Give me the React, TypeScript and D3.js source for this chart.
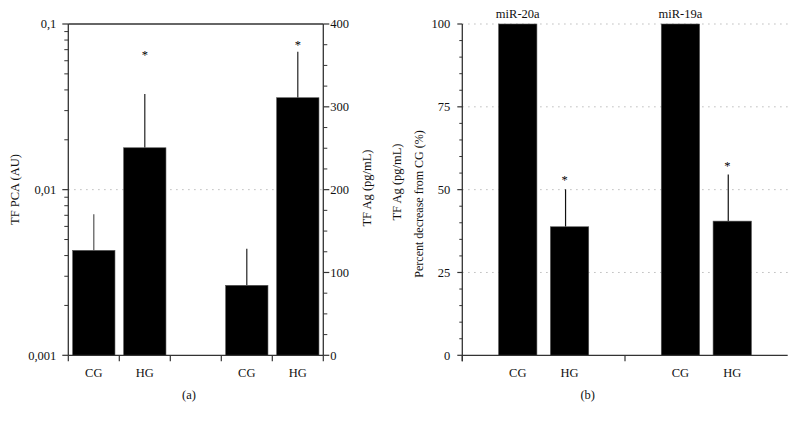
import React from "react";
import * as d3 from "d3";

// ---------- Data ----------
const categories = ["CG", "HG"];
// Panel (a): TF PCA (log axis, left) and TF Ag (linear axis, right)
const pcaMeans = [0.0043, 0.0179];
const pcaErrTop = [0.0071, 0.0378];
const pcaStar = [null, 0.0665];
const agMeans = [84.5, 311];
const agErrTop = [128.7, 366.5];
const agStar = [null, 376.7];
const logTickLabels = ["0,1", "0,01", "0,001"];
const logTickValues = [0.1, 0.01, 0.001];
const agTicks = [0, 100, 200, 300, 400];
// Panel (b): percent decrease from CG
const mirGroups = ["miR-20a", "miR-19a"];
const cgPercent = [100, 100];
const hgPercent = [38.8, 40.5];
const hgErrTop = [50.1, 54.6];
const hgStar = [53.4, 57.7];
const pctTicks = [0, 25, 50, 75, 100];

const FONT = "'Liberation Serif', 'Times New Roman', serif";
const AX = "#333";

export default function App() {
  const W = 796, H = 421;
  const yTop = 24, yBot = 355.3;

  // ----- Panel (a) scales -----
  const aL = 68.3, aR = 323.3;
  const slotsA = ["pca-CG", "pca-HG", "gap", "ag-CG", "ag-HG"];
  const xA = d3.scaleBand<string>().domain(slotsA).range([aL, aR]).paddingInner(0.17).paddingOuter(0.085);
  const stepA = (aR - aL) / slotsA.length;
  const yLog = d3.scaleLog().domain([0.001, 0.1]).range([yBot, yTop]);
  const yAg = d3.scaleLinear().domain([0, 400]).range([yBot, yTop]);
  const logMinor: number[] = [];
  [0.001, 0.01].forEach((dec) => { for (let k = 2; k <= 9; k++) logMinor.push(k * dec); });
  const agMinor = d3.range(0, 401, 25).filter((v) => v % 100 !== 0);

  // ----- Panel (b) scales -----
  const bL = 462.3, bR = 787.7;
  const xGroup = d3.scaleBand<string>().domain(mirGroups).range([bL, bR]).padding(0);
  const xInner = d3.scaleBand<string>().domain(categories).range([0, xGroup.bandwidth()]).paddingInner(0.26).paddingOuter(0.7);
  const yPct = d3.scaleLinear().domain([0, 100]).range([yBot, yTop]);
  const pctMinor = d3.range(0, 101, 5).filter((v) => v % 25 !== 0);

  const txt = { fontFamily: FONT, fontSize: 12.5, fill: "#111" } as const;
  const grid = { stroke: "#aaa", strokeWidth: 1, strokeDasharray: "1.2 4.8" };

  const barsA: { x: number; w: number; y: number; y0: number; err: number; star: number | null }[] = [];
  categories.forEach((c, i) => {
    barsA.push({ x: xA("pca-" + c)!, w: xA.bandwidth(), y: yLog(pcaMeans[i]), y0: yBot, err: yLog(pcaErrTop[i]), star: pcaStar[i] != null ? yLog(pcaStar[i] as number) : null });
  });
  categories.forEach((c, i) => {
    barsA.push({ x: xA("ag-" + c)!, w: xA.bandwidth(), y: yAg(agMeans[i]), y0: yAg(0), err: yAg(agErrTop[i]), star: agStar[i] != null ? yAg(agStar[i] as number) : null });
  });
  const labelSlots = ["pca-CG", "pca-HG", "ag-CG", "ag-HG"];

  return (
    <svg width={W} height={H} style={{ display: "block", position: "absolute", left: 0, top: 0 }}>
      <rect width={W} height={H} fill="#fff" />
      {/* ===== Panel (a) ===== */}
      <line x1={aL} x2={aR} y1={yLog(0.01)} y2={yLog(0.01)} {...grid} />
      {barsA.map((b, i) => (
        <g key={"ba" + i}>
          <line x1={b.x + b.w / 2} x2={b.x + b.w / 2} y1={b.y} y2={b.err} stroke={i === 0 ? "#555" : "#222"} strokeWidth={1.2} />
          <rect x={b.x} y={b.y} width={b.w} height={b.y0 - b.y} fill="#000" stroke="#555" strokeWidth={0.6} />
          {b.star != null && (
            <text x={b.x + b.w / 2} y={b.star + 6} textAnchor="middle" {...txt} fill="#000">*</text>
          )}
        </g>
      ))}
      {/* frame */}
      <line x1={aL} x2={aR} y1={yTop} y2={yTop} stroke={AX} strokeWidth={1.3} />
      <line x1={aL} x2={aR} y1={yBot} y2={yBot} stroke={AX} strokeWidth={1.3} />
      <line x1={aL} x2={aL} y1={yTop} y2={yBot} stroke={AX} strokeWidth={1.3} />
      <line x1={aR} x2={aR} y1={yTop} y2={yBot} stroke={AX} strokeWidth={1.3} />
      {/* left log ticks */}
      {logTickValues.map((v, i) => (
        <g key={"lt" + i}>
          <line x1={aL - 6} x2={aL} y1={yLog(v)} y2={yLog(v)} stroke={AX} strokeWidth={1.2} />
          <text x={aL - 12} y={yLog(v)} dy="0.35em" textAnchor="end" {...txt}>{logTickLabels[i]}</text>
        </g>
      ))}
      {logMinor.map((v, i) => (
        <line key={"lm" + i} x1={aL - 4} x2={aL} y1={yLog(v)} y2={yLog(v)} stroke={AX} strokeWidth={1} />
      ))}
      {/* right linear ticks */}
      {agTicks.map((v) => (
        <g key={"rt" + v}>
          <line x1={aR} x2={aR + 6} y1={yAg(v)} y2={yAg(v)} stroke={AX} strokeWidth={1.2} />
          <text x={aR + 7} y={yAg(v)} dy="0.35em" textAnchor="start" {...txt}>{v}</text>
        </g>
      ))}
      {agMinor.map((v) => (
        <line key={"rm" + v} x1={aR} x2={aR + 4} y1={yAg(v)} y2={yAg(v)} stroke={AX} strokeWidth={1} />
      ))}
      {/* bottom ticks */}
      {d3.range(slotsA.length + 1).map((i) => (
        <line key={"bt" + i} x1={aL + i * stepA} x2={aL + i * stepA} y1={yBot} y2={yBot + 6} stroke={AX} strokeWidth={1.2} />
      ))}
      {labelSlots.map((s) => (
        <text key={"cl" + s} x={xA(s)! + xA.bandwidth() / 2} y={377} textAnchor="middle" {...txt}>{s.split("-")[1]}</text>
      ))}
      <text x={189} y={399} textAnchor="middle" {...txt}>(a)</text>
      <text transform={`translate(15,189.5) rotate(-90)`} textAnchor="middle" dominantBaseline="central" {...txt}>TF PCA (AU)</text>
      <text transform={`translate(367,188) rotate(-90)`} textAnchor="middle" dominantBaseline="central" {...txt}>TF Ag (pg/mL)</text>

      {/* ===== Panel (b) ===== */}
      {pctTicks.filter((v) => v > 0).map((v) => (
        <line key={"gb" + v} x1={bL} x2={bR} y1={yPct(v)} y2={yPct(v)} {...grid} />
      ))}
      {mirGroups.map((g, gi) => {
        const gx = xGroup(g)!;
        const cx = gx + xInner("CG")!;
        const hx = gx + xInner("HG")!;
        const bw = xInner.bandwidth();
        const ex = hx + bw / 2 - 4;
        return (
          <g key={"gr" + g}>
            <rect x={cx} y={yPct(cgPercent[gi])} width={bw} height={yBot - yPct(cgPercent[gi])} fill="#000" stroke="#555" strokeWidth={0.6} />
            <line x1={ex} x2={ex} y1={yPct(hgPercent[gi])} y2={yPct(hgErrTop[gi])} stroke="#111" strokeWidth={1.2} />
            <rect x={hx} y={yPct(hgPercent[gi])} width={bw} height={yBot - yPct(hgPercent[gi])} fill="#000" stroke="#555" strokeWidth={0.6} />
            <text x={ex - 1} y={yPct(hgStar[gi]) + 6} textAnchor="middle" {...txt} fill="#000">*</text>
            <text x={cx + bw / 2} y={17.5} textAnchor="middle" {...txt}>{g}</text>
            <text x={cx + bw / 2} y={377} textAnchor="middle" {...txt}>CG</text>
            <text x={hx + bw / 2} y={377} textAnchor="middle" {...txt}>HG</text>
            <line x1={gx} x2={gx} y1={yBot} y2={yBot + 6} stroke={AX} strokeWidth={1.2} />
          </g>
        );
      })}
      <line x1={bL} x2={bL} y1={yTop} y2={yBot + 6} stroke={AX} strokeWidth={1.3} />
      <line x1={bL} x2={bR} y1={yBot} y2={yBot} stroke={AX} strokeWidth={1.3} />
      {pctTicks.map((v) => (
        <g key={"pt" + v}>
          <line x1={bL - 5} x2={bL} y1={yPct(v)} y2={yPct(v)} stroke={AX} strokeWidth={1.2} />
          <text x={bL - 12} y={yPct(v)} dy="0.35em" textAnchor="end" {...txt}>{v}</text>
        </g>
      ))}
      {pctMinor.map((v) => (
        <line key={"pm" + v} x1={bL - 3} x2={bL} y1={yPct(v)} y2={yPct(v)} stroke={AX} strokeWidth={1} />
      ))}
      <text x={587.7} y={399} textAnchor="middle" {...txt}>(b)</text>
      <text transform={`translate(397,182) rotate(-90)`} textAnchor="middle" dominantBaseline="central" {...txt}>TF Ag (pg/mL)</text>
      <text transform={`translate(419,204) rotate(-90)`} textAnchor="middle" dominantBaseline="central" {...txt} fontSize={12}>Percent decrease from CG (%)</text>
    </svg>
  );
}
